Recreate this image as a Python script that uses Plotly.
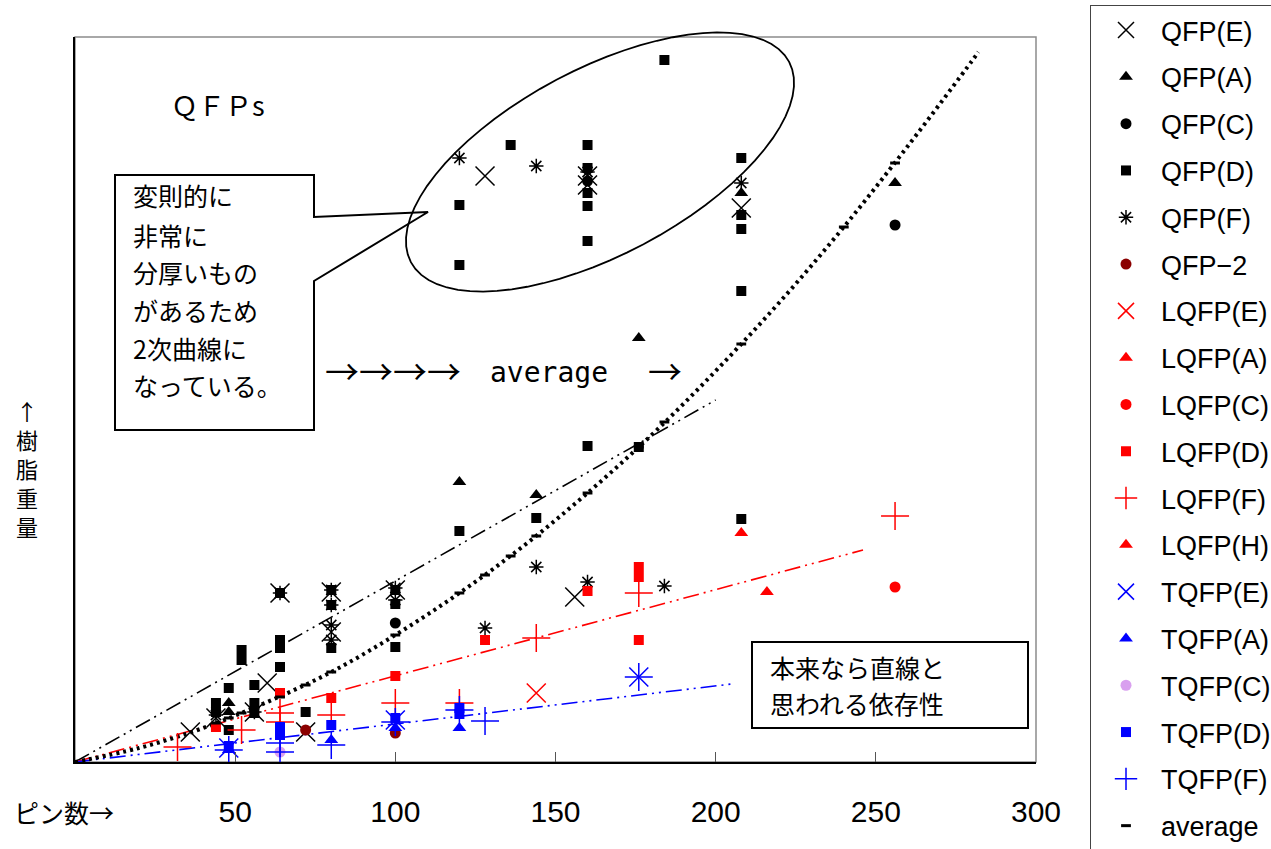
import math
import plotly.graph_objects as go

# ---------------- data (x = pin count, y = resin weight, arbitrary units) ----------------
qfp_e_x = [128, 160, 160, 208, 156, 64, 80, 80, 100, 60, 44, 36, 72, 56]
qfp_e_y = [586, 586, 577, 554, 165, 169, 170, 130, 172, 79, 44, 30, 30, 50]

qfp_a_x = [256, 208, 176, 120, 144, 48, 48]
qfp_a_y = [579, 569, 424, 280, 267, 59, 50]

qfp_c_x = [256, 160, 100]
qfp_c_y = [537, 581, 139]

qfp_d_x = [184, 136, 160, 160, 160, 160, 160, 160, 120, 120, 120, 208, 208, 208, 208, 208,
           176, 144, 64, 64, 64, 64, 80, 80, 80, 100, 100, 100, 52, 52, 48, 56, 56, 56, 44, 44, 72, 48]
qfp_d_y = [702, 617, 617, 594, 569, 556, 521, 316, 557, 497, 231, 604, 547, 533, 471, 243,
           315, 244, 169, 122, 114, 95, 172, 157, 114, 172, 158, 115, 112, 102, 74, 77, 59, 49, 59, 50, 50, 32]

qfp_f_x = [120, 144, 160, 208, 144, 160, 184, 128, 80, 80, 80, 80, 100, 100, 64, 56, 44]
qfp_f_y = [604, 596, 590, 579, 195, 180, 176, 134, 172, 157, 137, 122, 174, 162, 169, 50, 47]

qfp2_x = [72, 100]
qfp2_y = [32, 29]

lqfp_e_x = [144]
lqfp_e_y = [69]

lqfp_a_x = [208]
lqfp_a_y = [229]

lqfp_c_x = [256]
lqfp_c_y = [175]

lqfp_d_x = [44, 64, 80, 100, 128, 160, 176, 176, 176]
lqfp_d_y = [35, 69, 64, 86, 122, 171, 195, 185, 122]

lqfp_f_x = [256, 176, 144, 120, 100, 80, 64, 64, 52, 32]
lqfp_f_y = [246, 169, 124, 59, 59, 47, 49, 40, 32, 15]

lqfp_h_x = [216]
lqfp_h_y = [170]

tqfp_e_x = [48, 100, 176]
tqfp_e_y = [14, 42, 85]

tqfp_a_x = [48, 80, 100, 120]
tqfp_a_y = [12, 22, 34, 34]

tqfp_c_x = [64]
tqfp_c_y = [10]

tqfp_d_x = [48, 64, 64, 80, 100, 120, 120]
tqfp_d_y = [16, 35, 27, 37, 44, 54, 48]

tqfp_f_x = [48, 64, 64, 80, 100, 128, 176, 120]
tqfp_f_y = [12, 19, 10, 17, 40, 41, 85, 52]

avg_x = [44, 48, 52, 56, 64, 72, 80, 100, 120, 128, 136, 144, 160, 176, 184, 208, 240, 256]
avg_y = [39, 44, 49, 54, 65, 77, 90, 127, 169, 187, 206, 226, 269, 315, 340, 418, 535, 599]

# quadratic "average" curve
curve_x = [0, 20, 40, 60, 80, 100, 120, 140, 160, 180, 200, 220, 240, 260, 280, 282]
curve_y = [0, 14, 34, 60, 90, 127, 169, 216, 269, 327, 391, 460, 535, 616, 701, 710]

# straight dash-dot trend lines
qfp_line_x, qfp_line_y = [0, 200], [0, 362]
lqfp_line_x, lqfp_line_y = [0, 246], [0, 212]
tqfp_line_x, tqfp_line_y = [0, 205], [0, 78]

x_ticks = [50, 100, 150, 200, 250, 300]

# ---------------- figure ----------------
W, H = 1271, 849
L, R, T, B = 75, 1036, 37, 762


def px(x):
    return (x - L) / (R - L)


def py(y):
    return (B - y) / (B - T)


fig = go.Figure()

DASHDOTDOT = "16px,5px,2px,5px,2px,5px"
fig.add_trace(go.Scatter(x=qfp_line_x, y=qfp_line_y, mode="lines", showlegend=False,
                         line=dict(color="black", width=1.6, dash=DASHDOTDOT), hoverinfo="skip"))
fig.add_trace(go.Scatter(x=lqfp_line_x, y=lqfp_line_y, mode="lines", showlegend=False,
                         line=dict(color="red", width=1.6, dash=DASHDOTDOT), hoverinfo="skip"))
fig.add_trace(go.Scatter(x=tqfp_line_x, y=tqfp_line_y, mode="lines", showlegend=False,
                         line=dict(color="blue", width=1.6, dash=DASHDOTDOT), hoverinfo="skip"))
fig.add_trace(go.Scatter(x=curve_x, y=curve_y, mode="lines", showlegend=False, line_shape="spline",
                         line=dict(color="black", width=4, dash="3px,4px"), hoverinfo="skip"))


def add(name, xs, ys, symbol, color, size, lw=0, line_only=False):
    marker = dict(symbol=symbol, size=size, color=color)
    if line_only:
        marker["line"] = dict(color=color, width=lw)
    else:
        marker["line"] = dict(width=0)
    fig.add_trace(go.Scatter(x=xs, y=ys, mode="markers", name=name, marker=marker,
                             legendgroup=name))


add("QFP(E)", qfp_e_x, qfp_e_y, "x-thin", "black", 19, 1.5, True)
add("QFP(A)", qfp_a_x, qfp_a_y, "triangle-up", "black", 12)
add("QFP(C)", qfp_c_x, qfp_c_y, "circle", "black", 11)
add("QFP(D)", qfp_d_x, qfp_d_y, "square", "black", 10)
add("QFP(F)", qfp_f_x, qfp_f_y, "asterisk", "black", 12, 1.5, True)
add("QFP−2", qfp2_x, qfp2_y, "circle", "#8b0000", 11)
add("LQFP(E)", lqfp_e_x, lqfp_e_y, "x-thin", "red", 19, 1.5, True)
add("LQFP(A)", lqfp_a_x, lqfp_a_y, "triangle-up", "red", 12)
add("LQFP(C)", lqfp_c_x, lqfp_c_y, "circle", "red", 11)
add("LQFP(D)", lqfp_d_x, lqfp_d_y, "square", "red", 10)
add("LQFP(F)", lqfp_f_x, lqfp_f_y, "cross-thin", "red", 20, 1.5, True)
add("LQFP(H)", lqfp_h_x, lqfp_h_y, "triangle-up", "red", 12)
add("TQFP(E)", tqfp_e_x, tqfp_e_y, "x-thin", "blue", 19, 1.5, True)
add("TQFP(A)", tqfp_a_x, tqfp_a_y, "triangle-up", "blue", 12)
add("TQFP(C)", tqfp_c_x, tqfp_c_y, "circle", "#d9a0ef", 11)
add("TQFP(D)", tqfp_d_x, tqfp_d_y, "square", "blue", 10)
add("TQFP(F)", tqfp_f_x, tqfp_f_y, "cross-thin", "blue", 20, 1.5, True)
add("average", avg_x, avg_y, "line-ew", "black", 7, 3, True)

fig.update_layout(
    width=W, height=H,
    margin=dict(l=L, r=W - R, t=T, b=H - B, autoexpand=False),
    paper_bgcolor="white", plot_bgcolor="white",
    font=dict(family="Liberation Sans", color="black"),
    xaxis=dict(range=[0, 300], tickvals=x_ticks, ticks="inside", ticklen=10, tickcolor="#555",
               showline=True, linecolor="black", linewidth=1.5, showgrid=False, zeroline=False,
               tickfont=dict(family="Liberation Sans", size=30), ticklabelstandoff=22),
    yaxis=dict(range=[0, 725], showticklabels=False, ticks="", showline=True, linecolor="black",
               linewidth=1.5, showgrid=False, zeroline=False),
    legend=dict(x=px(1090), xanchor="left", y=py(5), yanchor="top",
                bordercolor="#444", borderwidth=1, bgcolor="white",
                font=dict(family="Liberation Sans", size=27),
                tracegroupgap=8.7, itemwidth=60, maxheight=900),
    showlegend=True,
)

shapes = []
# plot frame (grey)
shapes.append(dict(type="rect", xref="paper", yref="paper", x0=0, y0=0, x1=1, y1=1,
                   line=dict(color="#8c8c8c", width=1.5), layer="below"))

# callout box with pointer
pts = [(115, 175), (314, 175), (314, 217), (428, 212), (314, 281), (314, 430), (115, 430)]
path = "M " + " L ".join(f"{px(a):.5f},{py(b):.5f}" for a, b in pts) + " Z"
shapes.append(dict(type="path", xref="paper", yref="paper", path=path,
                   line=dict(color="black", width=2), fillcolor="white", layer="above"))

# tilted ellipse
cx, cy, ea, eb, ang = 600, 162, 214, 93, math.radians(-27.9)
ep = []
for i in range(73):
    t = 2 * math.pi * i / 72
    ex = ea * math.cos(t)
    ey = eb * math.sin(t)
    X = cx + ex * math.cos(ang) - ey * math.sin(ang)
    Y = cy + ex * math.sin(ang) + ey * math.cos(ang)
    ep.append((X, Y))
epath = "M " + " L ".join(f"{px(a):.5f},{py(b):.5f}" for a, b in ep) + " Z"
shapes.append(dict(type="path", xref="paper", yref="paper", path=epath,
                   line=dict(color="black", width=1.8), layer="above"))

# second text box
shapes.append(dict(type="rect", xref="paper", yref="paper", x0=px(752), y0=py(728), x1=px(1028),
                   y1=py(642), line=dict(color="black", width=2), fillcolor="white", layer="above"))
fig.update_layout(shapes=shapes)

CJK = "Noto Sans CJK JP"
ann = []


def txt(text, x, y, size, family=CJK, xanchor="left"):
    ann.append(dict(text=text, x=px(x), y=py(y), xref="paper", yref="paper", showarrow=False,
                    xanchor=xanchor, yanchor="middle", font=dict(family=family, size=size, color="black")))


for line, yy in zip(["変則的に", "非常に", "分厚いもの", "があるため", "2次曲線に", "なっている。"],
                    [195, 235, 272, 310, 348, 385]):
    txt(line, 131, yy, 25)
txt("本来なら直線と", 768, 667, 25)
txt("思われる依存性", 768, 703, 25)
txt("ＱＦＰs", 218, 105, 27, xanchor="center")
txt("→→→→", 323, 370, 34)
txt("average", 488, 372, 28, family="DejaVu Sans Mono")
txt("→", 646, 370, 34)
for ch, yy in zip(["↑", "樹", "脂", "重", "量"], [410, 439, 468, 497, 526]):
    txt(ch, 27, yy, 22, xanchor="center")
txt("ピン数→", 12, 812, 25)
fig.update_layout(annotations=ann)

fig.write_html("out.html")
